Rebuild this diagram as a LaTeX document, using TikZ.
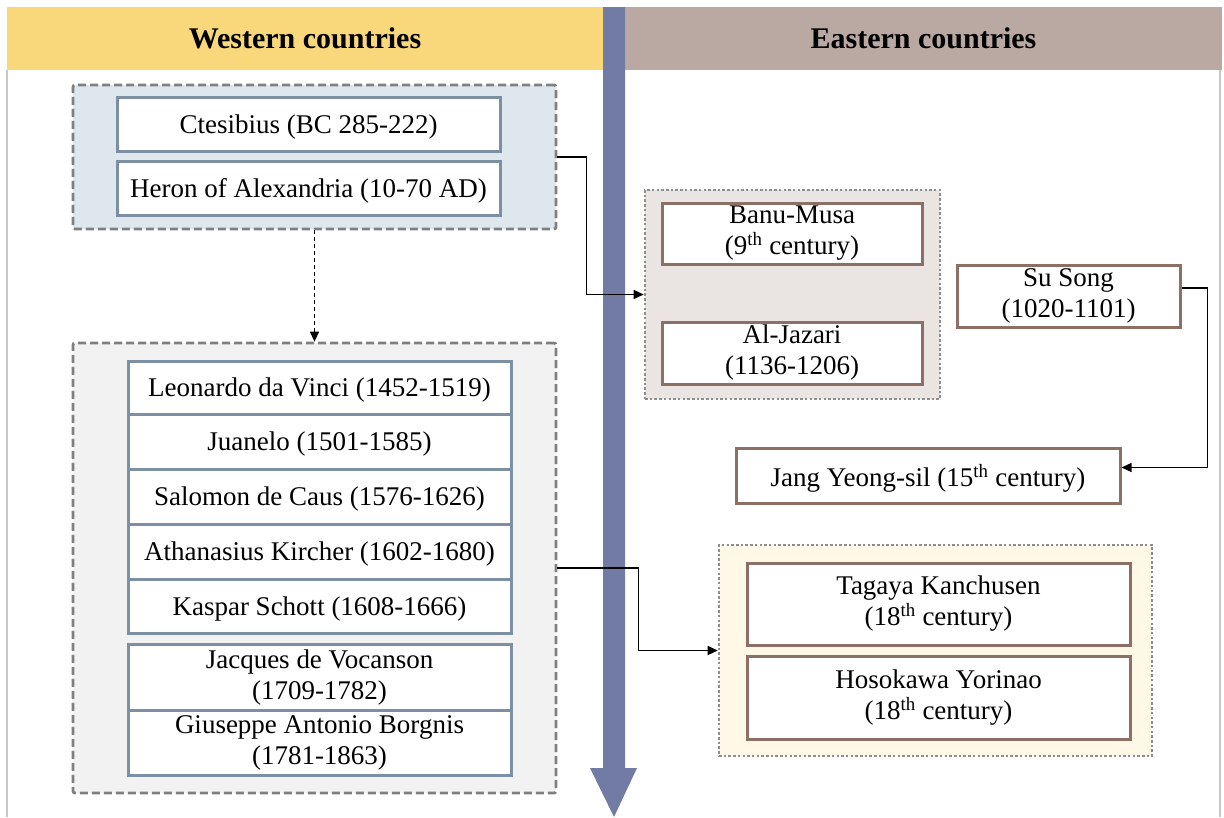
\documentclass[tikz,border=0pt]{standalone}
\usepackage{fontspec}
\setmainfont{Liberation Serif}
\usetikzlibrary{arrows.meta,positioning}
\definecolor{hdryel}{HTML}{F9D87B}
\definecolor{hdrbrn}{HTML}{BAA9A2}
\definecolor{barblue}{HTML}{717BA3}
\definecolor{grpblue}{HTML}{DDE7ED}
\definecolor{grpgray}{HTML}{F2F2F2}
\definecolor{grpwarm}{HTML}{EAE5E2}
\definecolor{grpcream}{HTML}{FFF8E6}
\definecolor{slateb}{HTML}{7D8FA3}
\definecolor{brownb}{HTML}{8C7066}
\definecolor{dashg}{HTML}{808080}
\definecolor{panelg}{HTML}{C8C8C8}
\tikzset{
  txt/.style={font=\fontsize{27}{31}\selectfont, align=center, inner sep=0pt},
  lbox/.style={txt, draw=slateb, line width=3pt, fill=white, minimum width=383pt},
  rbox/.style={txt, draw=brownb, line width=3pt, fill=white},
  dgrp/.style={draw=dashg, line width=2.8pt, dash pattern=on 8pt off 4pt, rounded corners=2pt, inner sep=0pt},
  pgrp/.style={draw=dashg!90, line width=2.6pt, dash pattern=on 2.5pt off 2.2pt, inner sep=0pt},
  hdr/.style={font=\fontsize{30}{34}\selectfont\bfseries, inner sep=0pt, minimum height=63pt},
  conn/.style={draw=black, line width=1.3pt, -{Triangle[length=10pt,width=9pt]}},
}
\begin{document}
\begin{tikzpicture}[x=1pt,y=-1pt]
\useasboundingbox (0,0) rectangle (1224,817);
% panel side lines
\draw[panelg, line width=1.2pt] (7,70) -- (7,817) (1220,70) -- (1220,817);
% headers
\node[hdr, fill=hdryel, minimum width=596pt] (west) at (305,38.5) {Western countries};
\node[hdr, fill=hdrbrn, minimum width=597pt] (east) at (923.5,38.5) {Eastern countries};
% time bar
\fill[barblue] (603,7) -- (625,7) -- (625,768) -- (637,768) -- (614,817) -- (590,768) -- (603,768) -- cycle;
% top-left group
\node[dgrp, fill=grpblue, minimum width=483pt, minimum height=144pt] (topgrp) at (314.5,157) {};
\node[lbox, minimum height=54pt, text depth=-3pt] (cte) at (308.5,124) {Ctesibius (BC 285-222)};
\node[lbox, minimum height=54pt, text depth=-3pt] (heron) at (308.5,188) {Heron of Alexandria (10-70 AD)};
% lower-left group
\node[dgrp, fill=grpgray, minimum width=483pt, minimum height=450pt] (lowgrp) at (314.5,568) {};
\node[lbox, minimum height=53pt, text depth=-3pt] (leo) at (319.5,387.5) {Leonardo da Vinci (1452-1519)};
\node[lbox, minimum height=55pt, text depth=-3pt] (juan) at (319.5,441.5) {Juanelo (1501-1585)};
\node[lbox, minimum height=55pt, text depth=-3pt] (sal) at (319.5,496.5) {Salomon de Caus (1576-1626)};
\node[lbox, minimum height=55pt, text depth=-3pt] (ath) at (319.5,551.5) {Athanasius Kircher (1602-1680)};
\node[lbox, minimum height=54pt, text depth=-3pt] (kas) at (319.5,606) {Kaspar Schott (1608-1666)};
\node[lbox, minimum height=66pt] (jac) at (319.5,677) {Jacques de Vocanson\\(1709-1782)};
\node[lbox, minimum height=65pt] (giu) at (319.5,742.5) {Giuseppe Antonio Borgnis\\(1781-1863)};
% Banu group
\node[pgrp, fill=grpwarm, minimum width=295pt, minimum height=209pt] (banugrp) at (792.5,294.5) {};
\node[rbox, minimum width=260pt, minimum height=61pt] (banu) at (792,233.5) {Banu-Musa\\(9\textsuperscript{th} century)};
\node[rbox, minimum width=260pt, minimum height=62pt] (jaz) at (792,353) {Al-Jazari\\(1136-1206)};
% Su Song, Jang
\node[rbox, minimum width=223pt, minimum height=62pt] (susong) at (1068.5,296) {Su Song\\(1020-1101)};
\node[rbox, minimum width=384pt, minimum height=55pt, text depth=-3pt] (jang) at (928,475.5) {Jang Yeong-sil (15\textsuperscript{th} century)};
% Tagaya group
\node[pgrp, fill=grpcream, minimum width=433pt, minimum height=211pt] (taggrp) at (935.5,650.5) {};
\node[rbox, minimum width=383pt, minimum height=82pt] (tag) at (938.5,604) {Tagaya Kanchusen\\(18\textsuperscript{th} century)};
\node[rbox, minimum width=383pt, minimum height=83pt] (hoso) at (938.5,697.5) {Hosokawa Yorinao\\(18\textsuperscript{th} century)};
% connectors
\draw[conn] (topgrp.east) -- ++(29,0) |- (banugrp.west);
\draw[conn, dash pattern=on 4pt off 3pt] (topgrp.south) -- (lowgrp.north);
\draw[conn] (lowgrp.east) -- ++(81,0) |- (taggrp.west);
\draw[conn] ([yshift=8pt]susong.east) -- ++(26,0) |- ([yshift=8pt]jang.east);
\end{tikzpicture}
\end{document}
